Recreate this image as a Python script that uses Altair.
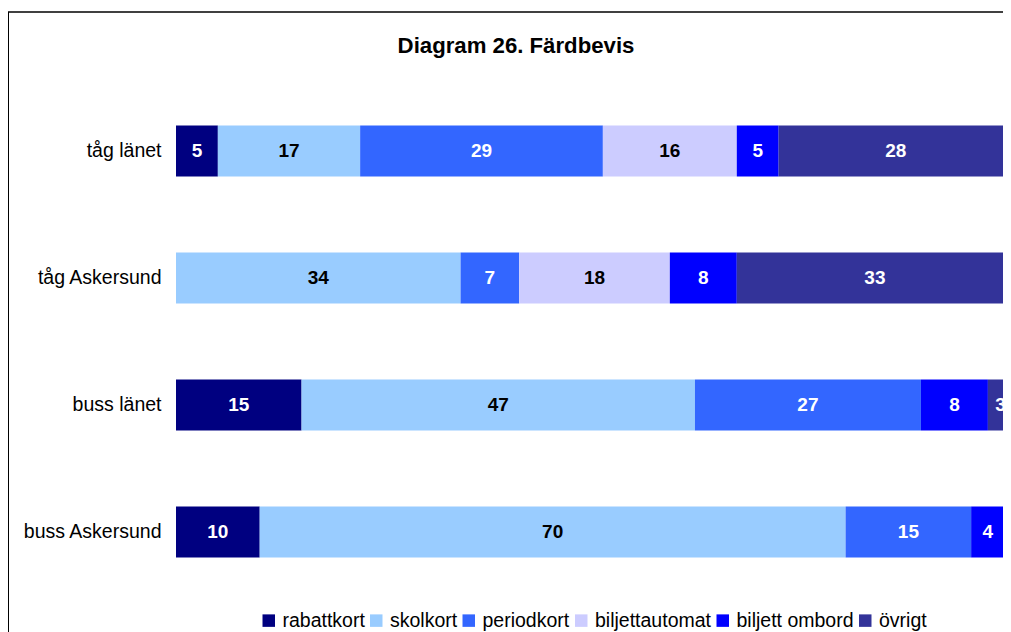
import altair as alt
import pandas as pd

categories = ["tåg länet", "tåg Askersund", "buss länet", "buss Askersund"]
series = ["rabattkort", "skolkort", "periodkort", "biljettautomat", "biljett ombord", "övrigt"]
rabattkort = [5, 0, 15, 10]
skolkort = [17, 34, 47, 70]
periodkort = [29, 7, 27, 15]
biljettautomat = [16, 18, 0, 0]
biljett_ombord = [5, 8, 8, 4]
ovrigt = [28, 33, 3, 1]
colors = ["#000080", "#99CCFF", "#3366FF", "#CCCCFF", "#0000FF", "#333399"]
title_text = "Diagram 26. Färdbevis"

values = [rabattkort, skolkort, periodkort, biljettautomat, biljett_ombord, ovrigt]
rows = []
for si, (s, vals) in enumerate(zip(series, values)):
    for c, v in zip(categories, vals):
        rows.append({"category": c, "series": s, "order": si, "value": v})
df = pd.DataFrame(rows)

FONT = "Liberation Sans"

base = alt.Chart(df).transform_filter("datum.value > 0").transform_stack(
    stack="value", as_=["x0", "x1"], groupby=["category"],
    sort=[alt.SortField("order", order="ascending")]
).transform_calculate(mid="(datum.x0 + datum.x1) / 2")

yenc = alt.Y("category:N", sort=categories,
             scale=alt.Scale(paddingInner=0.6, paddingOuter=0.3),
             axis=alt.Axis(title=None, ticks=False, domain=False, grid=False, labelPadding=15,
                           labelFontSize=19.5, labelFont=FONT, labelColor="black",
                           labelLimit=300))
xscale = alt.Scale(domain=[0, 100], range=[0, 837], nice=False, zero=True)

bars = base.mark_bar(clip=False).encode(
    x=alt.X("x0:Q", scale=xscale, axis=None),
    x2="x1:Q",
    y=yenc,
    color=alt.Color("series:N", sort=series,
                    scale=alt.Scale(domain=series, range=colors),
                    legend=alt.Legend(title=None, orient="none", legendX=83, legendY=523,
                                      direction="horizontal", symbolType="square",
                                      symbolSize=156, symbolStrokeWidth=0,
                                      labelFontSize=19.5, labelFont=FONT, labelColor="black",
                                      columnPadding=1.5, labelOffset=4, padding=0)),
)

labels = base.mark_text(fontSize=19, fontWeight="bold", font=FONT, baseline="middle", clip=False).encode(
    x=alt.X("mid:Q", scale=xscale),
    y=alt.Y("category:N", sort=categories),
    text=alt.Text("value:Q"),
    color=alt.condition("indexof(['skolkort','biljettautomat'], datum.series) >= 0",
                        alt.value("black"), alt.value("white")),
)

title = alt.Chart(pd.DataFrame({"t": [title_text]})).mark_text(
    fontSize=22.2, fontWeight="bold", font=FONT, align="center", baseline="alphabetic",
    color="black", clip=False
).encode(text="t:N", x=alt.value(340), y=alt.value(-34.2))

frame_top = alt.Chart(pd.DataFrame({"a": [0]})).mark_rule(color="black", strokeWidth=1.5, clip=False).encode(
    x=alt.value(-168), x2=alt.value(900), y=alt.value(-75.5))
frame_left = alt.Chart(pd.DataFrame({"a": [0]})).mark_rule(color="black", strokeWidth=2, clip=False).encode(
    x=alt.value(-168), y=alt.value(-75.5), y2=alt.value(560))

chart = alt.layer(frame_top, frame_left, title, bars, labels).properties(
    width=827, height=508,
    background="white",
    autosize=alt.AutoSizeParams(type="none"),
    padding={"left": 168, "top": 79.5, "right": 0, "bottom": 45},
).configure_view(strokeWidth=0, stroke=None)

chart.save("out.html", embed_options={"renderer": "svg", "actions": False})
